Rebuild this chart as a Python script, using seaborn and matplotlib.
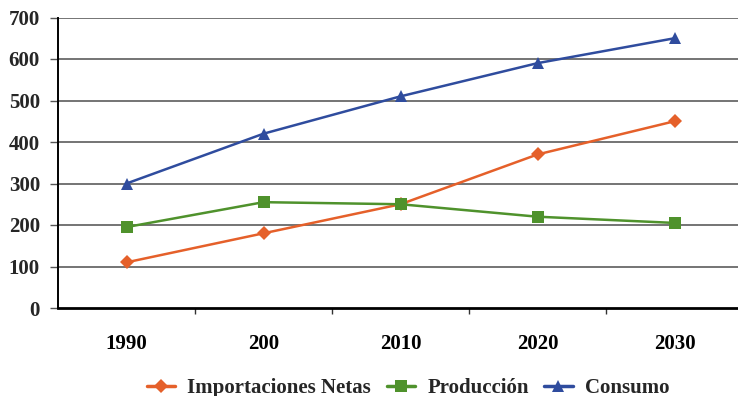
import matplotlib
matplotlib.use("Agg")
import matplotlib.pyplot as plt
from matplotlib.lines import Line2D
import seaborn as sns
import pandas as pd

# Data
years = ["1990", "200", "2010", "2020", "2030"]
importaciones = [110, 180, 250, 370, 450]
produccion = [195, 255, 250, 220, 205]
consumo = [300, 420, 510, 590, 650]
series_names = ["Importaciones Netas", "Producción", "Consumo"]
y_ticks = [0, 100, 200, 300, 400, 500, 600, 700]

colors = ["#E5602A", "#4F922C", "#2F4C9E"]
markers = ["D", "s", "^"]
msizes = [7, 8.5, 9]

sns.set_theme(style="white")
plt.rcParams["font.family"] = ["Liberation Serif", "DejaVu Serif"]
plt.rcParams["font.weight"] = "bold"

df = pd.DataFrame({
    "year": years * 3,
    "value": importaciones + produccion + consumo,
    "serie": [n for n in series_names for _ in years],
})

fig = plt.figure(figsize=(7.38, 3.96), dpi=100)
ax = fig.add_axes([58 / 738, 88 / 396, 685 / 738, 290.5 / 396])

# Horizontal gridlines
for v in y_ticks[1:]:
    ax.axhline(v, color="#5c5c5c", lw=1.2, zorder=0)

for name, c, m, ms in zip(series_names, colors, markers, msizes):
    sub = df[df["serie"] == name]
    sns.lineplot(data=sub, x="year", y="value", ax=ax, color=c, lw=1.8,
                 marker=m, markersize=ms, markeredgewidth=0, sort=False,
                 legend=False, zorder=3)

ax.set_xlim(-0.5, len(years) - 0.5)
ax.set_ylim(0, 700)
ax.set_yticks(y_ticks)
ax.set_yticklabels([str(v) for v in y_ticks], fontsize=15, fontweight="bold")
ax.set_xticks(range(len(years)))
ax.set_xticklabels(years, fontsize=15, fontweight="bold")
ax.set_xticks([i + 0.5 for i in range(len(years) - 1)], minor=True)
ax.tick_params(axis="x", which="major", length=0, pad=19, colors="black")
ax.tick_params(axis="x", which="minor", length=4.5, width=1, color="#333333",
               direction="out", bottom=True)
ax.tick_params(axis="y", which="major", length=6, width=1, color="#555555",
               direction="out", left=True, pad=7)
ax.set_xlabel("")
ax.set_ylabel("")

for s in ["top", "right"]:
    ax.spines[s].set_visible(False)
ax.spines["left"].set_color("black")
ax.spines["left"].set_linewidth(1.4)
ax.spines["bottom"].set_color("black")
ax.spines["bottom"].set_linewidth(2)

handles = [Line2D([0], [0], color=c, lw=2.5, marker=m, markersize=ms,
                  markeredgewidth=0)
           for c, m, ms in zip(colors, markers, msizes)]
fig.legend(handles, series_names, loc="center", bbox_to_anchor=(0.553, 0.02),
           ncol=3, frameon=False, handlelength=1.35, handletextpad=0.6,
           columnspacing=0.75, prop={"family": "Liberation Serif",
                                     "weight": "bold", "size": 15})

fig.savefig("out.png", dpi=100)
